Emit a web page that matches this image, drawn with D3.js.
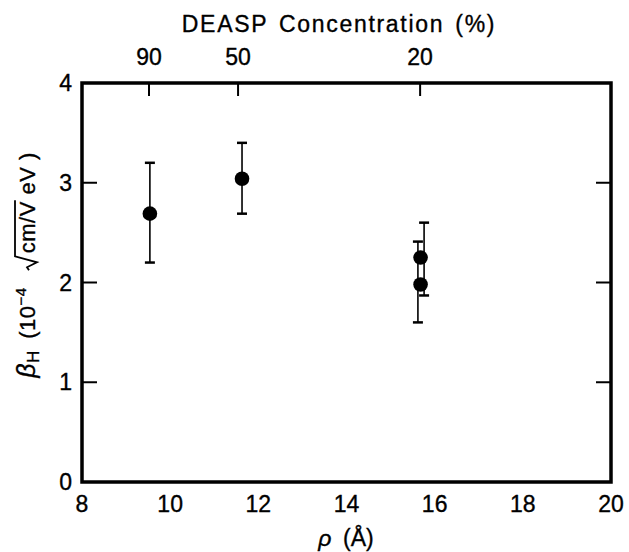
<!DOCTYPE html>
<html>
<head>
<meta charset="utf-8">
<script src="https://cdn.jsdelivr.net/npm/d3@7"></script>
<style>
  body { margin: 0; background: #fff; }
  text { font-family: "Liberation Sans", Arial, Helvetica, sans-serif; fill: #000; stroke: #000; stroke-width: 0.35; }
</style>
</head>
<body>
<div id="plot"></div>
<script>
// data
const rho = [9.54, 11.63, 15.68, 15.68];        // point positions (Å)
const beta = [2.69, 3.04, 2.25, 1.98];          // beta_H values
const errRho = [9.54, 11.63, 15.76, 15.62];     // error bars drawn slightly apart at 15.7
const errLo = [2.20, 2.69, 1.87, 1.60];
const errHi = [3.20, 3.40, 2.60, 2.41];

const xTicks = [8, 10, 12, 14, 16, 18, 20];
const yTicks = [0, 1, 2, 3, 4];
const topTickRho = [9.52, 11.54, 15.67];
const topTickLabels = ["90", "50", "20"];

const w = 629;
const h = 552;

const svg = d3.select("div#plot")
    .append("svg")
    .attr("width", w)
    .attr("height", h);

svg.append("rect")
    .attr("width", w)
    .attr("height", h)
    .attr("fill", "#fff");

const xScale = d3.scaleLinear()
    .domain([8, 20])
    .range([82, 611]);

const yScale = d3.scaleLinear()
    .domain([0, 4])
    .range([482, 83]);

const x0 = xScale(8), x1 = xScale(20);
const y0 = yScale(0), y1 = yScale(4);

// frame
svg.append("rect")
    .attr("x", x0)
    .attr("y", y1)
    .attr("width", x1 - x0)
    .attr("height", y0 - y1)
    .attr("fill", "none")
    .attr("stroke", "#000")
    .attr("stroke-width", 3.5);

// left / right inward ticks
const innerY = yTicks.filter(d => d > 0 && d < 4);
svg.selectAll(".ltick")
  .data(innerY)
  .enter().append("line")
    .attr("x1", x0).attr("x2", x0 + 15)
    .attr("y1", d => yScale(d)).attr("y2", d => yScale(d))
    .attr("stroke", "#000").attr("stroke-width", 2);

svg.selectAll(".rtick")
  .data(innerY)
  .enter().append("line")
    .attr("x1", x1).attr("x2", x1 - 15)
    .attr("y1", d => yScale(d)).attr("y2", d => yScale(d))
    .attr("stroke", "#000").attr("stroke-width", 2);

// top ticks (concentration)
svg.selectAll(".ttick")
  .data(topTickRho)
  .enter().append("line")
    .attr("x1", d => xScale(d)).attr("x2", d => xScale(d))
    .attr("y1", y1).attr("y2", y1 + 13)
    .attr("stroke", "#000").attr("stroke-width", 2);

// tick labels
svg.selectAll(".xlab")
  .data(xTicks)
  .enter().append("text")
    .attr("x", d => xScale(d))
    .attr("y", 512)
    .attr("text-anchor", "middle")
    .attr("font-size", 23)
    .text(d => d);

svg.selectAll(".ylab")
  .data(yTicks)
  .enter().append("text")
    .attr("x", 72)
    .attr("y", d => yScale(d) + 8)
    .attr("text-anchor", "end")
    .attr("font-size", 23)
    .text(d => d);

svg.selectAll(".toplab")
  .data(topTickLabels)
  .enter().append("text")
    .attr("x", (d, i) => xScale(topTickRho[i]))
    .attr("y", 65)
    .attr("text-anchor", "middle")
    .attr("font-size", 23)
    .text(d => d);

// axis titles
svg.append("text")
    .attr("x", 339)
    .attr("y", 32)
    .attr("text-anchor", "middle")
    .attr("font-size", 23)
    .attr("letter-spacing", 1.7)
    .attr("word-spacing", 3)
    .text("DEASP Concentration (%)");

const xt = svg.append("text")
    .attr("x", 346)
    .attr("y", 546)
    .attr("text-anchor", "middle")
    .attr("font-size", 23);
xt.append("tspan").attr("font-style", "italic").text("ρ");
xt.append("tspan").text("\u2002(Å)");

// y title, radical drawn as a path over "cm/V"
const yg = svg.append("g")
    .attr("transform", "translate(35, 265) rotate(-90)");
const yt = yg.append("text")
    .attr("text-anchor", "middle")
    .attr("font-size", 22)
    .attr("letter-spacing", 0.5);
yt.append("tspan").attr("font-style", "italic").attr("font-size", 25).text("β");
yt.append("tspan").attr("font-size", 17).attr("dy", 4).text("H");
yt.append("tspan").attr("dy", -4).text("\u2002(10");
yt.append("tspan").attr("font-size", 15).attr("dy", -9).text("−4");
yt.append("tspan").attr("dy", 9).text("\u2003\u2002");
yt.append("tspan").text("cm/V");
yt.append("tspan").text(" eV )");

const full = yt.text();
const ci = full.indexOf("cm/V");
const cBox = yt.node().getExtentOfChar(ci);
const vBox = yt.node().getExtentOfChar(ci + 3);
const radTop = cBox.y;
const radBot = cBox.y + cBox.height - 3;
const radMid = (radTop + radBot) / 2 + 3;
const cx = cBox.x;
yg.append("path")
    .attr("d", `M${cx - 17},${radMid} L${cx - 14},${radMid - 2} L${cx - 9},${radBot} L${cx - 3},${radTop} L${vBox.x + vBox.width + 1},${radTop}`)
    .attr("fill", "none")
    .attr("stroke", "#000")
    .attr("stroke-width", 1.8)
    .attr("stroke-linejoin", "miter");

// error bars
const bars = svg.append("g").attr("id", "errbars");
bars.selectAll("line.stem")
  .data(errRho)
  .enter().append("line")
    .attr("x1", d => xScale(d)).attr("x2", d => xScale(d))
    .attr("y1", (d, i) => yScale(errLo[i]))
    .attr("y2", (d, i) => yScale(errHi[i]))
    .attr("stroke", "#000").attr("stroke-width", 1.6);

bars.selectAll("line.hi")
  .data(errRho)
  .enter().append("line")
    .attr("x1", d => xScale(d) - 5).attr("x2", d => xScale(d) + 5)
    .attr("y1", (d, i) => yScale(errHi[i]))
    .attr("y2", (d, i) => yScale(errHi[i]))
    .attr("stroke", "#000").attr("stroke-width", 2.5);

bars.selectAll("line.lo")
  .data(errRho)
  .enter().append("line")
    .attr("x1", d => xScale(d) - 5).attr("x2", d => xScale(d) + 5)
    .attr("y1", (d, i) => yScale(errLo[i]))
    .attr("y2", (d, i) => yScale(errLo[i]))
    .attr("stroke", "#000").attr("stroke-width", 2.5);

// points
svg.selectAll("circle")
  .data(rho)
  .enter().append("circle")
    .attr("cx", d => xScale(d))
    .attr("cy", (d, i) => yScale(beta[i]))
    .attr("r", 7.3)
    .attr("fill", "#000");
</script>
</body>
</html>
